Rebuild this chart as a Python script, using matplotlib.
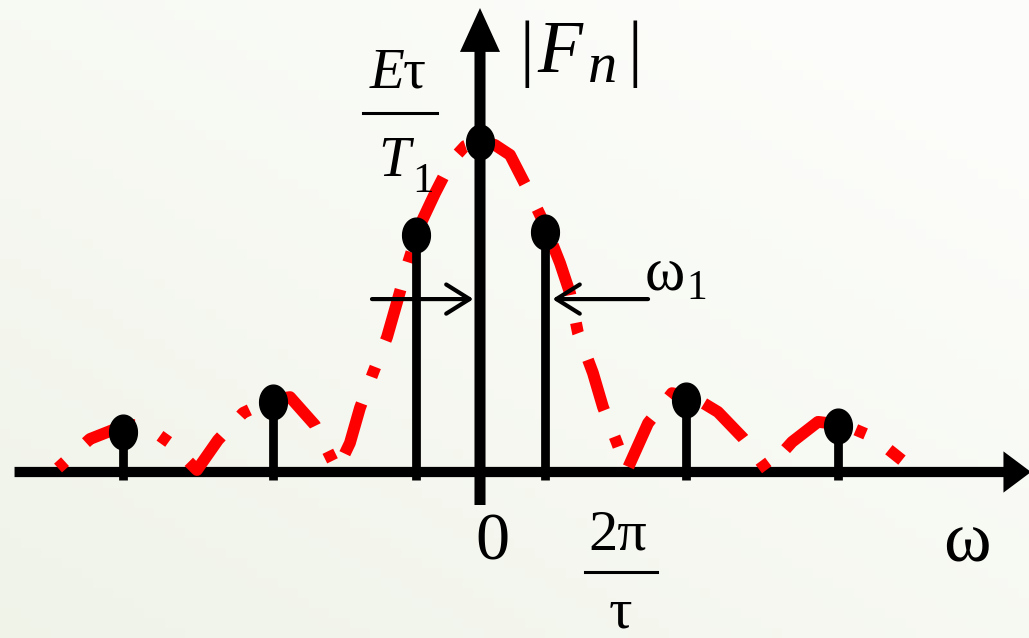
import numpy as np
import matplotlib
matplotlib.use("Agg")
import matplotlib.pyplot as plt
from matplotlib.patches import FancyArrow
from matplotlib.lines import Line2D
from matplotlib.path import Path

# omega in units of 2*pi/tau, |Fn| normalised to E*tau/T1
stem_w = [-2.46, -1.43, -0.44, 0.0, 0.45, 1.42, 2.47]
stem_h = [0.121, 0.212, 0.718, 1.0, 0.727, 0.218, 0.139]

# red envelope
env_w = [-2.910, -2.690, -2.448, -2.310, -2.138, -1.952, -1.807, -1.634, -1.448, -1.310,
         -1.138, -0.986, -0.897, -0.828, -0.738, -0.641, -0.572, -0.497, -0.414, -0.310,
         -0.193, -0.103, 0.0, 0.103, 0.207, 0.331, 0.448, 0.552, 0.621, 0.676,
         0.779, 0.848, 0.945, 1.014, 1.159, 1.324, 1.483, 1.641, 1.814, 1.979,
         2.152, 2.331, 2.517, 2.710, 2.910]
env_h = [0.012, 0.100, 0.142, 0.142, 0.088, 0.006, 0.097, 0.179, 0.218, 0.227,
         0.142, 0.006, 0.088, 0.194, 0.300, 0.409, 0.515, 0.633, 0.748, 0.845,
         0.945, 0.988, 1.003, 0.991, 0.961, 0.855, 0.748, 0.633, 0.542, 0.421,
         0.300, 0.197, 0.088, 0.006, 0.148, 0.239, 0.224, 0.182, 0.103, 0.006,
         0.091, 0.152, 0.142, 0.106, 0.036]

W, H = 1029, 638
fig = plt.figure(figsize=(W / 100, H / 100), dpi=100)

# pale background gradient
bg = fig.add_axes([0, 0, 1, 1], zorder=-1)
yy, xx = np.mgrid[0:1:64j, 0:1:100j]
t = np.clip(0.55 * xx + 0.6 * (1 - yy), 0, 1)[..., None]
c0 = np.array([0.940, 0.953, 0.912])
c1 = np.array([0.990, 0.993, 0.982])
bg.imshow(c0 + (c1 - c0) * t, aspect="auto", extent=[0, 1, 0, 1], origin="upper")
bg.axis("off")

ax = fig.add_axes([0, 0, 1, 1])
ax.set_xlim(-480 / 145, (W - 480) / 145)
ax.set_ylim((472 - H) / 330, 472 / 330)
ax.axis("off")
ax.patch.set_alpha(0)

# axes with arrow heads
ax.add_patch(FancyArrow(-3.21, 0, 3.80 + 3.21, 0, width=0.031, head_width=0.125,
                        head_length=0.19, length_includes_head=True, color="k", lw=0, zorder=2))
ax.add_patch(FancyArrow(0, -0.10, 0, 1.406 + 0.10, width=0.076, head_width=0.276,
                        head_length=0.133, length_includes_head=True, color="k", lw=0, zorder=4))

# envelope
ax.plot(env_w, env_h, color="#ff0000", lw=8.5, linestyle=(7.0, (4.5, 2.4, 0.9, 2.4)),
        dash_capstyle="butt", zorder=3)

# stems and dots
ax.vlines(stem_w, -0.025, stem_h, color="k", lw=6.3, zorder=4)
th = np.linspace(0, 2 * np.pi, 60)
dot = Path(np.column_stack([0.8 * np.cos(th), np.sin(th)]))
ax.plot(stem_w, stem_h, linestyle="none", marker=dot, ms=25, color="k", zorder=5)

# omega_1 arrows
ap = dict(arrowstyle="->,head_length=0.4,head_width=0.25", lw=3, color="k",
          mutation_scale=42, shrinkA=0, shrinkB=0)
ax.annotate("", xy=(-0.045, 0.524), xytext=(-0.745, 0.524), arrowprops=ap, zorder=6)
ax.annotate("", xy=(0.50, 0.524), xytext=(1.159, 0.524), arrowprops=ap, zorder=6)


def ftext(x, y, s, size, **kw):
    fig.text(x / W, 1 - y / H, s, family="Liberation Serif", size=size,
             va="baseline", **kw)


def fbar(x0, x1, y):
    fig.add_artist(Line2D([x0 / W, x1 / W], [1 - y / H] * 2, lw=2.2, color="k"))


# |F_n|
ftext(527, 72, "|", 53, ha="center")
ftext(537, 72, "F", 53, style="italic")
ftext(588, 82, "n", 42, style="italic")
ftext(635, 72, "|", 53, ha="center")

# E tau / T1
ftext(370, 88, "E", 41, style="italic")
ftext(403, 88, "τ", 41)
fbar(363, 437, 113)
ftext(378, 176, "T", 41, style="italic")
ftext(412, 192, "1", 31)

# omega_1
ftext(645, 290, "ω", 44)
ftext(686, 299, "1", 30)

# x-axis labels
ftext(492, 560, "0", 49, ha="center")
ftext(618, 550, "2π", 42, ha="center")
fbar(585, 657, 572)
ftext(620, 628, "τ", 42, ha="center")
ftext(967, 562, "ω", 52, ha="center")

fig.savefig("out.png", dpi=100)
